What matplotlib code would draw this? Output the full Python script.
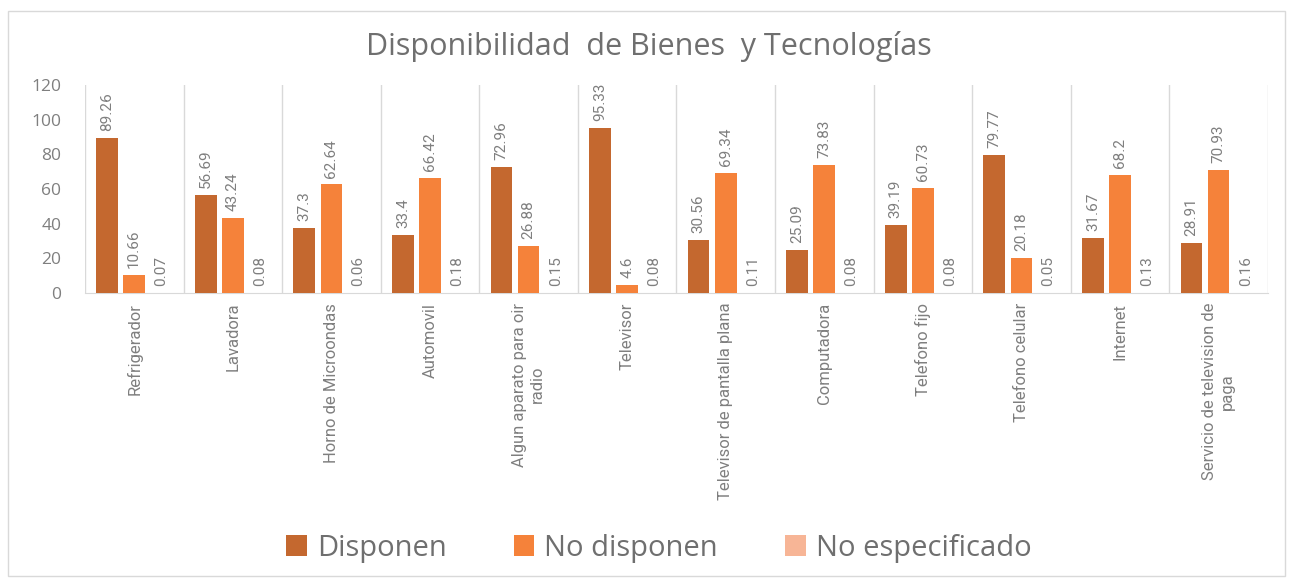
import matplotlib
matplotlib.use("Agg")
import matplotlib.pyplot as plt
import numpy as np
from matplotlib.patches import Rectangle

categories = ["Refrigerador", "Lavadora", "Horno de Microondas", "Automovil",
              "Algun aparato para oir\nradio", "Televisor", "Televisor de pantalla plana",
              "Computadora", "Telefono fijo", "Telefono celular", "Internet",
              "Servicio de television de\npaga"]
disponen = [89.26, 56.69, 37.3, 33.4, 72.96, 95.33, 30.56, 25.09, 39.19, 79.77, 31.67, 28.91]
no_disponen = [10.66, 43.24, 62.64, 66.42, 26.88, 4.6, 69.34, 73.83, 60.73, 20.18, 68.2, 70.93]
no_especificado = [0.07, 0.08, 0.06, 0.18, 0.15, 0.08, 0.11, 0.08, 0.08, 0.05, 0.13, 0.16]
series_names = ["Disponen", "No disponen", "No especificado"]
yticks = [0, 20, 40, 60, 80, 100, 120]

colors = ["#C4682F", "#F5823A", "#F7B596"]
gray = "#7F7F7F"
narrow = ["Roboto", "DejaVu Sans"]

fig = plt.figure(figsize=(12.97, 5.79), dpi=100)
ax = fig.add_axes([0.0655, 0.494, 0.912, 0.359])
fig.patches.append(Rectangle((0.006, 0.006), 0.985, 0.975, transform=fig.transFigure,
                             fill=False, edgecolor="#D9D9D9", linewidth=1))

x = np.arange(len(categories))
width = 0.22
offs = [-0.275, 0.0, 0.275]
data = [disponen, no_disponen, no_especificado]
for s, (vals, off, col, name) in enumerate(zip(data, offs, colors, series_names)):
    bars = ax.bar(x + off, vals, width, color=col, label=name, zorder=3)
    for b, v in zip(bars, vals):
        ax.annotate(f"{v:g}", (b.get_x() + b.get_width() / 2, b.get_height()),
                    xytext=(0, 5), textcoords="offset points", rotation=90,
                    ha="center", va="bottom", fontsize=11, color=gray,
                    family=narrow)

ax.set_xlim(-0.5, len(categories) - 0.5)
ax.set_ylim(0, 120)
ax.set_yticks(yticks)
ax.set_yticklabels([str(t) for t in yticks], family=["Open Sans", "DejaVu Sans"])
ax.tick_params(axis="y", length=0, labelsize=12.5, labelcolor=gray, pad=17)
ax.set_xticks(x)
ax.set_xticklabels(categories, rotation=90, fontsize=12, color=gray,
                   multialignment="center", family=narrow)
ax.tick_params(axis="x", length=0, pad=7)
for bnd in np.arange(-0.5, len(categories), 1.0):
    ax.axvline(bnd, color="#D9D9D9", linewidth=1, zorder=1, ymin=0, ymax=1)
for sp in ["top", "right", "left"]:
    ax.spines[sp].set_visible(False)
ax.spines["bottom"].set_color("#D9D9D9")

fig.text(0.5, 0.92, "Disponibilidad  de Bienes  y Tecnologías", ha="center", va="center",
         fontsize=22, color="#6F6F6F", family=["Open Sans", "DejaVu Sans"])

leg = fig.legend(loc="center", bbox_to_anchor=(0.508, 0.053), ncol=3, frameon=False,
                 prop={"family": ["Open Sans", "DejaVu Sans"], "size": 21},
                 handlelength=0.7, handleheight=0.7, handletextpad=0.35,
                 columnspacing=2.3)
for t in leg.get_texts():
    t.set_color("#6F6F6F")

fig.savefig("out.png", dpi=100)
